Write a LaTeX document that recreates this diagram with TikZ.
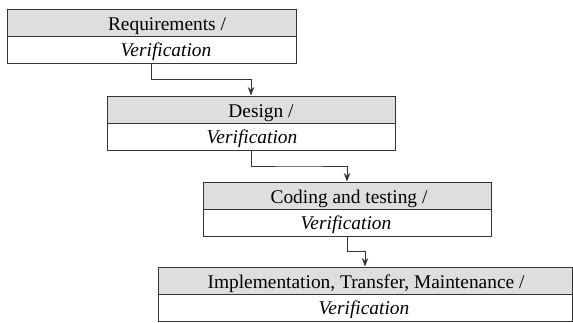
\documentclass[tikz,border=0pt]{standalone}
\usepackage{fontspec}
\setmainfont{Liberation Serif}
\usetikzlibrary{arrows.meta,calc}
\begin{document}
\begin{tikzpicture}[x=1pt,y=-1pt,
  rowbox/.style={draw=black!80, line width=1pt, inner sep=0pt, minimum height=27pt},
  headrow/.style={rowbox, fill=black!13},
  footrow/.style={rowbox, fill=white},
  lbl/.style={inner sep=0pt, font=\fontsize{19.4}{22}\selectfont, anchor=base},
  flow/.style={draw=black!80, line width=1pt, -{Stealth[length=8.5pt,width=6.5pt]}}]
\useasboundingbox (0,0) rectangle (573,322);

% phase boxes: a shaded title row over a white verification row
\node[headrow, minimum width=289pt] (h1) at (151.5,22.5) {};
\node[footrow, minimum width=289pt] (v1) at (151.5,49.5) {};
\node[headrow, minimum width=288pt] (h2) at (251,109.5) {};
\node[footrow, minimum width=288pt] (v2) at (251,136.5) {};
\node[headrow, minimum width=288pt] (h3) at (347,195.5) {};
\node[footrow, minimum width=288pt] (v3) at (347,222.5) {};
\node[headrow, minimum width=414pt] (h4) at (365,280.5) {};
\node[footrow, minimum width=414pt] (v4) at (365,307.5) {};

% labels
\node[lbl] (t1) at (167,30.5) {Requirements /};
\node[lbl] (u1) at (166,56.7) {\itshape Verification};
\node[lbl] (t2) at (261,117.5) {Design /};
\node[lbl] (u2) at (252,143.7) {\itshape Verification};
\node[lbl] (t3) at (349,203.5) {Coding and testing /};
\node[lbl] (u3) at (346,229.7) {\itshape Verification};
\node[lbl] (t4) at (366,288.5) {Implementation, Transfer, Maintenance /};
\node[lbl] (u4) at (364,314.7) {\itshape Verification};

% stepped connectors between phases
\draw[flow] (v1.south) |- ($(v1.south)!0.5!(h2.north)$) -| (h2.north);
\draw[flow] (v2.south) |- ($(v2.south)!0.5!(h3.north)$) -| (h3.north);
\draw[flow] (v3.south) |- ($(v3.south)!0.5!(h4.north)$) -| (h4.north);
\end{tikzpicture}
\end{document}
